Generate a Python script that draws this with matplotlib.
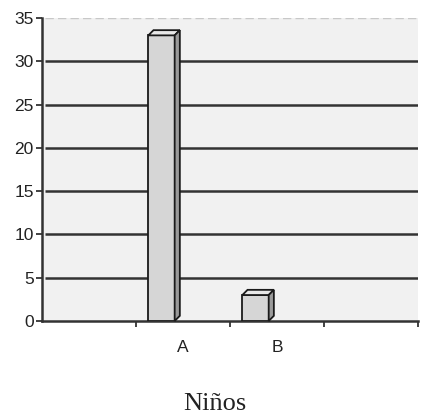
import matplotlib
matplotlib.use('Agg')
import matplotlib.pyplot as plt
from matplotlib.patches import Polygon

# datos
categorias = ['A', 'B']
posiciones = [1, 2]
valores = [33, 3]
marcas_y = [0, 5, 10, 15, 20, 25, 30, 35]

fig = plt.figure(figsize=(4.25, 4.15), dpi=100)
ax = fig.add_axes([0.099, 0.2265, 0.885, 0.73])
ax.set_facecolor('#f1f1f1')

ancho = 0.28
desplaz = -0.23
prof_x = 0.055
prof_y = 0.6

ax.set_xlim(-0.5, 3.5)
ax.set_ylim(0, 35)

for x, v in zip(posiciones, valores):
    x0 = x + desplaz - ancho / 2
    x1 = x0 + ancho
    # cara frontal
    ax.bar(x0, v, width=ancho, align='edge', color='#d6d6d6',
           edgecolor='#1a1a1a', linewidth=1.3, zorder=3)
    # cara superior
    ax.add_patch(Polygon([(x0, v), (x1, v), (x1 + prof_x, v + prof_y), (x0 + prof_x, v + prof_y)],
                         closed=True, facecolor='#e8e8e8', edgecolor='#1a1a1a',
                         linewidth=1.3, zorder=3, clip_on=False))
    # cara lateral
    ax.add_patch(Polygon([(x1, 0), (x1 + prof_x, prof_y), (x1 + prof_x, v + prof_y), (x1, v)],
                         closed=True, facecolor='#9a9a9a', edgecolor='#1a1a1a',
                         linewidth=1.3, zorder=3, clip_on=False))

ax.set_yticks(marcas_y)
ax.set_yticklabels([str(m) for m in marcas_y], fontsize=12.5, family='Liberation Sans', color='#222222')
# lineas de division (la de arriba es discontinua y clara)
ax.hlines(marcas_y[1:-1], -0.47, 3.5, color='#333333', linewidth=1.8, zorder=1)
ax.hlines(marcas_y[-1], -0.47, 3.5, color='#c8c8c8', linewidth=1, linestyle=(0, (6, 3)), zorder=1)

# etiquetas de categoria sin marca, marcas en los limites
ax.set_xticks(posiciones)
ax.set_xticklabels(categorias, fontsize=12.5, family='Liberation Sans', color='#222222')
ax.tick_params(axis='x', length=0, pad=14)
ax.set_xticks([0.5, 1.5, 2.5, 3.5], minor=True)
ax.tick_params(axis='x', which='minor', length=4, width=1.3, color='#333333', direction='out')
ax.tick_params(axis='y', length=4, width=1.3, color='#333333', pad=2)

for lado in ['top', 'right']:
    ax.spines[lado].set_visible(False)
ax.spines['left'].set_color('#333333')
ax.spines['left'].set_linewidth(1.8)
ax.spines['bottom'].set_color('#333333')
ax.spines['bottom'].set_linewidth(1.8)

fig.text(0.505, 0.012, 'Niños', ha='center', va='baseline', fontsize=19, family='Liberation Serif', color='#222222')

fig.savefig('out.png', dpi=100)
